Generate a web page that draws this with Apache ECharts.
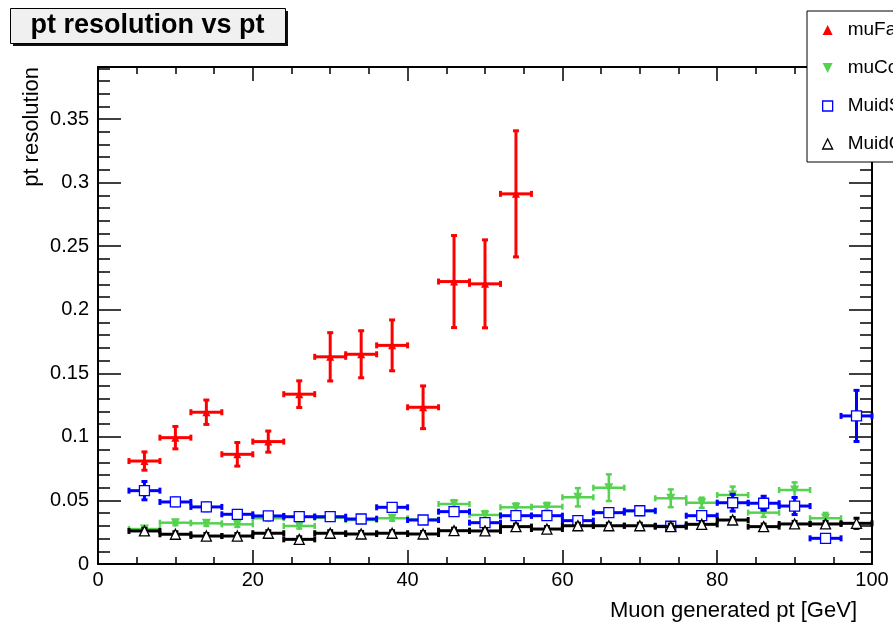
<!DOCTYPE html>
<html>
<head>
<meta charset="utf-8">
<title>pt resolution vs pt</title>
<script src="https://cdn.jsdelivr.net/npm/echarts@6/dist/echarts.min.js"></script>
<style>
  html, body { margin: 0; padding: 0; background: #fff; }
  #chart { width: 893px; height: 624px; }
</style>
</head>
<body>
<div id="chart"></div>
<script>
// bin centres in GeV, every bin is 4 GeV wide
const ptBins = [6, 10, 14, 18, 22, 26, 30, 34, 38, 42, 46, 50, 54, 58, 62, 66, 70, 74, 78, 82, 86, 90, 94, 98];
const binHalfWidth = 2;

const muFastRes = [0.081, 0.0994, 0.1194, 0.0863, 0.0963, 0.1336, 0.163, 0.165, 0.172, 0.1233, 0.2222, 0.2204, 0.2912];
const muFastErr = [0.0072, 0.0088, 0.0096, 0.0093, 0.0083, 0.0105, 0.019, 0.0185, 0.020, 0.0168, 0.0362, 0.0346, 0.0496];

const muCombRes = [0.0275, 0.0325, 0.032, 0.0312, 0.036, 0.0299, 0.0364, 0.0346, 0.036, 0.035, 0.0472, 0.0386,
    0.0446, 0.0451, 0.0525, 0.060, 0.0415, 0.0517, 0.0482, 0.0543, 0.0404, 0.0582, 0.036, null];
const muCombErr = [0.002, 0.002, 0.002, 0.002, 0.002, 0.002, 0.002, 0.002, 0.002, 0.002, 0.003, 0.003,
    0.003, 0.003, 0.0072, 0.0105, 0.003, 0.007, 0.004, 0.0066, 0.0033, 0.006, 0.0042, null];

const muidSaRes = [0.0577, 0.0488, 0.0449, 0.0391, 0.0378, 0.0372, 0.0372, 0.0354, 0.0446, 0.0346, 0.0412, 0.0325,
    0.038, 0.038, 0.0341, 0.0404, 0.0419, 0.0297, 0.038, 0.0482, 0.0478, 0.0456, 0.0202, 0.1165];
const muidSaErr = [0.0072, 0.003, 0.003, 0.002, 0.002, 0.002, 0.002, 0.002, 0.003, 0.002, 0.003, 0.002,
    0.002, 0.002, 0.002, 0.003, 0.003, 0.002, 0.003, 0.0066, 0.0055, 0.0067, 0.002, 0.0201];

const muidCbRes = [0.026, 0.0234, 0.022, 0.022, 0.0242, 0.0194, 0.0242, 0.0236, 0.0242, 0.0236, 0.0262, 0.026,
    0.0294, 0.0275, 0.0301, 0.0301, 0.0301, 0.0294, 0.0312, 0.0346, 0.0294, 0.0315, 0.0315, 0.032];
const muidCbErr = [0.002, 0.002, 0.002, 0.002, 0.002, 0.002, 0.002, 0.002, 0.002, 0.002, 0.002, 0.002,
    0.002, 0.002, 0.002, 0.002, 0.002, 0.002, 0.002, 0.002, 0.002, 0.002, 0.002, 0.004];

const font = "'Liberation Sans', Arial, Helvetica, sans-serif";
const downTriangle = "path://M0,0L10,0L5,10Z";

function points(res, err) {
    const out = [];
    res.forEach((v, i) => {
        if (v != null) out.push([ptBins[i], v, err[i]]);
    });
    return out;
}

// x and y error bars with small end caps, like TGraphErrors
function errorBars(color, width) {
    return function (params, api) {
        const x = api.value(0), y = api.value(1), e = api.value(2);
        const l = api.coord([x - binHalfWidth, y]);
        const r = api.coord([x + binHalfWidth, y]);
        const t = api.coord([x, y + e]);
        const b = api.coord([x, y - e]);
        const cap = 3;
        const style = { stroke: color, lineWidth: width };
        const seg = (x1, y1, x2, y2) => ({ type: "line", shape: { x1, y1, x2, y2 }, style });
        return {
            type: "group",
            children: [
                seg(l[0], l[1], r[0], r[1]),
                seg(l[0], l[1] - cap, l[0], l[1] + cap),
                seg(r[0], r[1] - cap, r[0], r[1] + cap),
                seg(t[0], t[1], b[0], b[1]),
                seg(t[0] - cap, t[1], t[0] + cap, t[1]),
                seg(b[0] - cap, b[1], b[0] + cap, b[1]),
            ],
        };
    };
}

function xAxisDef(position, interval, len, major) {
    return {
        type: "value", position, min: 0, max: 100, interval,
        axisLine: { show: major, onZero: false, lineStyle: { color: "#000", width: 2 } },
        axisTick: { show: true, inside: true, length: len, lineStyle: { color: "#000", width: 1.5 } },
        axisLabel: {
            show: major && position === "bottom", margin: 6,
            fontSize: 20, fontFamily: font, color: "#000",
        },
        splitLine: { show: false },
    };
}

function yAxisDef(position, interval, len, major) {
    return {
        type: "value", position, min: 0, max: 0.391, interval,
        axisLine: { show: major, onZero: false, lineStyle: { color: "#000", width: 2 } },
        axisTick: { show: true, inside: true, length: len, lineStyle: { color: "#000", width: 1.5 } },
        axisLabel: {
            show: major && position === "left", margin: 9, showMaxLabel: false,
            fontSize: 20, fontFamily: font, color: "#000",
            formatter: (v) => String(+v.toFixed(2)),
        },
        splitLine: { show: false },
    };
}

const series = [];
function addSet(name, res, err, color, lw, symbol, size, itemStyle, z) {
    const data = points(res, err);
    series.push({
        type: "custom", name: name + " err", renderItem: errorBars(color, lw),
        data, z, silent: true, encode: { x: 0, y: 1 },
    });
    series.push({
        type: "scatter", name, data, symbol, symbolSize: size,
        itemStyle: Object.assign({ opacity: 1 }, itemStyle),
        z: z + 1, silent: true,
    });
}

addSet("muFast", muFastRes, muFastErr, "#ff0000", 3, "triangle", 8, { color: "#ff0000" }, 2);
addSet("muComb", muCombRes, muCombErr, "#55d24f", 2.5, downTriangle, 9, { color: "#55d24f" }, 4);
addSet("MuidSA", muidSaRes, muidSaErr, "#0000ff", 3, "rect", 10,
    { color: "#fff", borderColor: "#0000ff", borderWidth: 1.3 }, 6);
addSet("MuidCB", muidCbRes, muidCbErr, "#000000", 3, "triangle", 10,
    { color: "#fff", borderColor: "#000", borderWidth: 1.3 }, 8);

const chart = echarts.init(document.getElementById("chart"));
chart.setOption({
    animation: false,
    backgroundColor: "#fff",
    grid: { left: 98, right: 21, top: 67, bottom: 60, outerBoundsMode: "none" },
    xAxis: [
        xAxisDef("bottom", 20, 14, true),
        xAxisDef("bottom", 5, 7, false),
        xAxisDef("top", 20, 14, true),
        xAxisDef("top", 5, 7, false),
    ],
    yAxis: [
        yAxisDef("left", 0.05, 23, true),
        yAxisDef("left", 0.01, 12, false),
        yAxisDef("right", 0.05, 23, true),
        yAxisDef("right", 0.01, 12, false),
    ],
    legend: {
        orient: "vertical", left: 807, top: 11,
        itemWidth: 10, itemHeight: 10, itemGap: 18,
        padding: [9, 60, 8, 15],
        backgroundColor: "#fff", borderColor: "#000", borderWidth: 1, borderRadius: 0,
        textStyle: { fontSize: 19, lineHeight: 20, fontFamily: font, color: "#000", padding: [0, 0, 0, 10] },
        selectedMode: false,
        data: [
            { name: "muFast", itemStyle: { opacity: 1 } },
            { name: "muComb", itemStyle: { opacity: 1 } },
            { name: "MuidSA", itemStyle: { opacity: 1, borderWidth: 1.3 } },
            { name: "MuidCB", itemStyle: { opacity: 1, borderWidth: 1.3 } },
        ],
    },
    graphic: [
        { type: "rect", shape: { x: 13, y: 11, width: 275, height: 35 }, style: { fill: "#111" }, z: 100 },
        {
            type: "rect", shape: { x: 10.5, y: 8.5, width: 275, height: 35 },
            style: { fill: "#f0f0f0", stroke: "#000", lineWidth: 1 }, z: 101,
        },
        {
            type: "text", x: 147.5, y: 26, z: 102,
            style: {
                text: "pt resolution vs pt", fontSize: 27, fontWeight: "bold", fontFamily: font,
                fill: "#000", align: "center", verticalAlign: "middle",
            },
        },
        {
            type: "text", x: 32, y: 67, rotation: Math.PI / 2, z: 102,
            style: {
                text: "pt resolution", fontSize: 22, fontFamily: font,
                fill: "#000", align: "right", verticalAlign: "middle",
            },
        },
        {
            type: "text", x: 857, y: 611, z: 102,
            style: {
                text: "Muon generated pt [GeV]", fontSize: 22, fontFamily: font,
                fill: "#000", align: "right", verticalAlign: "middle",
            },
        },
    ],
    series,
});
</script>
</body>
</html>
